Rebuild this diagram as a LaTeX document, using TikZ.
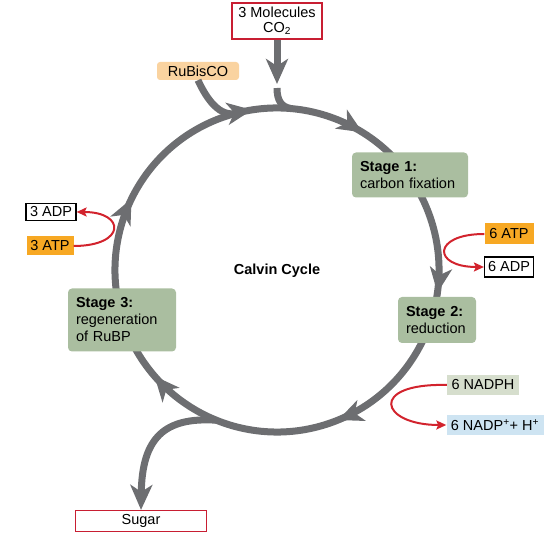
\documentclass[tikz,border=0pt]{standalone}
\usepackage{fontspec}
\setmainfont{Liberation Sans}
\usetikzlibrary{arrows.meta,decorations.markings,calc}

\definecolor{cyclegray}{RGB}{109,110,113}
\definecolor{stagegreen}{RGB}{170,190,160}
\definecolor{atporange}{RGB}{247,168,35}
\definecolor{rubiscopeach}{RGB}{250,211,160}
\definecolor{nadphgreen}{RGB}{214,222,205}
\definecolor{nadpblue}{RGB}{206,228,242}
\definecolor{flowred}{RGB}{210,35,45}
\definecolor{boxred}{RGB}{200,30,50}

\tikzset{
  txt/.style={font=\fontsize{14.5}{17}\selectfont, inner sep=0pt},
  stagebox/.style={txt, fill=stagegreen, rounded corners=4pt, align=left, inner xsep=8pt},
  smallbox/.style={txt, minimum height=19pt},
  inbox/.style={txt, draw=boxred, line width=1.2pt, align=center},
  bigtip/.style={-{Stealth[length=25pt,width=22pt,inset=7pt]}},
  grayflow/.style={draw=cyclegray, line width=7pt},
  redflow/.style={draw=flowred, line width=2pt, -{Stealth[length=10pt,width=9pt,inset=2pt]}}
}

\begin{document}
\begin{tikzpicture}[x=1pt,y=1pt]

\useasboundingbox (0,0) rectangle (553,537);

% the cycle, clockwise, arrowheads along it
\coordinate (cyc) at (277,267);
\draw[grayflow,
  decoration={markings,
    mark=at position 0.031 with {\arrow{Stealth[length=25pt,width=22pt,inset=7pt]}},
    mark=at position 0.144 with {\arrow{Stealth[length=25pt,width=22pt,inset=7pt]}},
    mark=at position 0.328 with {\arrow{Stealth[length=25pt,width=22pt,inset=7pt]}},
    mark=at position 0.494 with {\arrow{Stealth[length=25pt,width=22pt,inset=7pt]}},
    mark=at position 0.692 with {\arrow{Stealth[length=25pt,width=22pt,inset=7pt]}},
    mark=at position 0.878 with {\arrow{Stealth[length=25pt,width=22pt,inset=7pt]}}},
  postaction=decorate]
(cyc) ++(110:162) arc[start angle=110, end angle=-250, radius=162];

\coordinate (co2end) at (277,453);
\coordinate (co2join) at ($(cyc)+(85:162)$);
\coordinate (rubjoin) at ($(cyc)+(104.7:162)$);
\coordinate (sugarfork) at ($(cyc)+(-112:162)$);

\node[inbox, minimum width=90pt, minimum height=36pt] (co2) at (277,516)
{3 Molecules\\[-2pt]CO\textsubscript{2}};

\node[smallbox, fill=rubiscopeach, rounded corners=3pt, minimum width=82pt, minimum height=18pt] (rubisco) at (198,466)
{RuBisCO};

\draw[grayflow, bigtip] (co2.south) -- (co2end);
\draw[grayflow] (277,449) .. controls (277,437) and (281,430) .. (co2join);

\draw[grayflow] (rubisco.south) .. controls (207,437) and (220,420) .. (rubjoin);

\node[stagebox, text width=100pt, minimum height=45pt] (stage1) at (410,362)
{\textbf{Stage 1:}\\carbon fixation};

\node[stagebox, text width=62pt, minimum height=46pt] (stage2) at (437,217)
{\textbf{Stage 2:}\\reduction};

\node[stagebox, text width=92pt, minimum height=63pt] (stage3) at (122,217)
{\textbf{Stage 3:}\\regeneration\\of RuBP};

\node[txt, font=\fontsize{14.5}{17}\selectfont\bfseries] (calvin) at (277,266)
{Calvin Cycle};

\node[smallbox, fill=atporange, minimum width=49pt, minimum height=21pt] (atp6) at (509,303)
{6 ATP};

\node[smallbox, draw=black, line width=1.2pt, minimum width=49pt, minimum height=20pt] (adp6) at (509,270)
{6 ADP};

\node[smallbox, draw=black, line width=1.2pt, minimum width=50pt, minimum height=17pt] (adp3) at (51,325)
{3 ADP};

\node[smallbox, fill=atporange, minimum width=47pt, minimum height=19pt] (atp3) at (50,291)
{3 ATP};

\node[smallbox, fill=nadphgreen, minimum width=72pt, minimum height=20pt] (nadph) at (483,152)
{6 NADPH};

\node[smallbox, fill=nadpblue, minimum width=97pt, minimum height=20pt] (nadp) at (495,112)
{6 NADP\textsuperscript{+}+ H\textsuperscript{+}};

\draw[redflow] (atp6.west) .. controls (432,303) and (432,270) .. (adp6.west);
\draw[redflow] (atp3.east) .. controls (126,291) and (126,325) .. (adp3.east);
\draw[redflow] (nadph.west) .. controls (368,154) and (380,112) .. (nadp.west);

\node[inbox, minimum width=131pt, minimum height=21pt] (sugar) at (141,16)
{Sugar};

\draw[grayflow, bigtip] (sugarfork) .. controls (165,120) and (142,100) .. (sugar.north);

\end{tikzpicture}
\end{document}
